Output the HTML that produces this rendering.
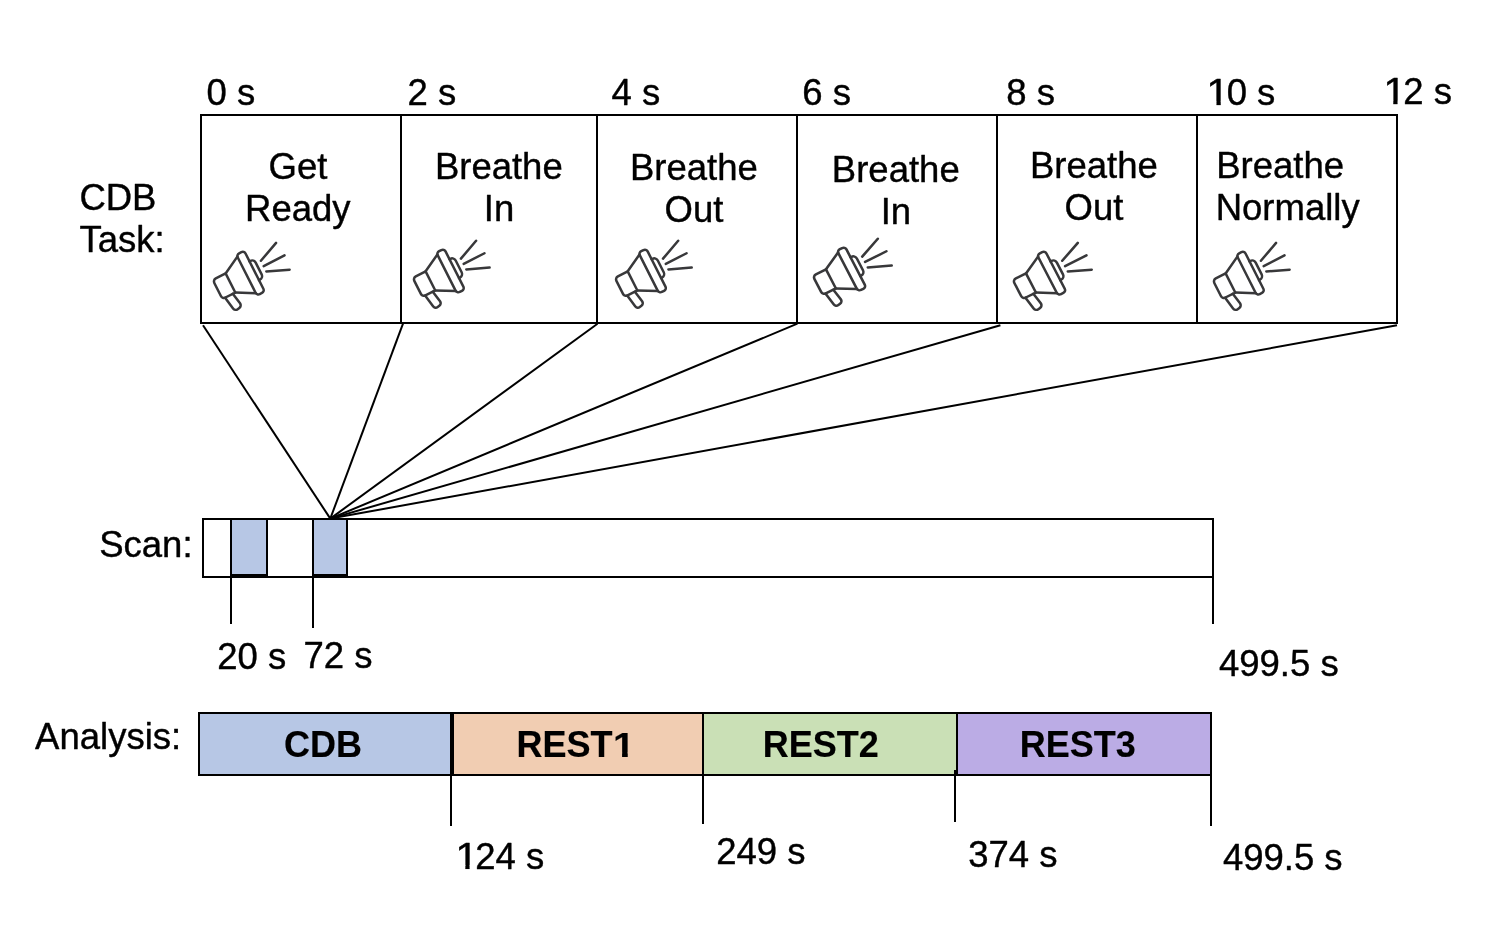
<!DOCTYPE html>
<html><head><meta charset="utf-8"><title>CDB task timing diagram</title>
<style>
html,body{margin:0;padding:0;background:#fff;}
body{width:1508px;height:930px;overflow:hidden;position:relative;}
svg{position:absolute;left:0;top:0;display:block;will-change:transform;}
text{font-family:"Liberation Sans",sans-serif;font-size:36.5px;fill:#000;stroke:#000;stroke-width:0.4px;stroke-linejoin:round;}
.b{font-weight:bold;font-size:36px;stroke-width:0.15px;}
</style></head><body>
<svg width="1508" height="930" viewBox="0 0 1508 930">
<defs><clipPath id="oneR" clipPathUnits="userSpaceOnUse"><rect x="-2" y="-32" width="24" height="28.5"/><rect x="8.9" y="-3.6" width="3.7" height="4.1"/></clipPath>
<clipPath id="oneB" clipPathUnits="userSpaceOnUse"><rect x="-2" y="-32" width="24" height="27.5"/><rect x="8.4" y="-4.6" width="5.2" height="5.1"/></clipPath></defs>

<g fill="none" stroke="#000" stroke-width="2" shape-rendering="crispEdges">
<rect x="201" y="115" width="1196" height="208"/>
<line x1="401" y1="115" x2="401" y2="323"/>
<line x1="597" y1="115" x2="597" y2="323"/>
<line x1="797" y1="115" x2="797" y2="323"/>
<line x1="997" y1="115" x2="997" y2="323"/>
<line x1="1197" y1="115" x2="1197" y2="323"/>
</g>
<g stroke="#000" stroke-width="2" fill="none">
<line x1="203.0" y1="325.2" x2="330.3" y2="518.6"/>
<line x1="403.0" y1="323.7" x2="330.3" y2="518.6"/>
<line x1="597.5" y1="323.7" x2="330.3" y2="518.6"/>
<line x1="797.4" y1="323.7" x2="330.3" y2="518.6"/>
<line x1="1000.4" y1="325.3" x2="330.3" y2="518.6"/>
<line x1="1397.0" y1="325.3" x2="330.3" y2="518.6"/>
</g>
<g stroke="#000" stroke-width="2" shape-rendering="crispEdges">
<rect x="203" y="519" width="1010" height="58" fill="#fff"/>
<rect x="231" y="519" width="36" height="56" fill="#b7c7e5"/>
<rect x="313" y="519" width="34" height="56" fill="#b7c7e5"/>
<line x1="231" y1="577" x2="231" y2="623.7"/>
<line x1="313" y1="577" x2="313" y2="627.7"/>
<line x1="1213" y1="577" x2="1213" y2="623.7"/>
</g>
<g stroke="#000" stroke-width="2" shape-rendering="crispEdges">
<rect x="199" y="713" width="252" height="62" fill="#b7c7e5"/>
<rect x="453" y="713" width="250" height="62" fill="#f1cdb2"/>
<rect x="703" y="713" width="254" height="62" fill="#cae0b6"/>
<rect x="957" y="713" width="254" height="62" fill="#bbace5"/>
<line x1="451" y1="775" x2="451" y2="825.7"/>
<line x1="703" y1="775" x2="703" y2="823.7"/>
<line x1="955" y1="770" x2="955" y2="821.7"/>
<line x1="1211" y1="775" x2="1211" y2="825.7"/>
</g>
<g transform="translate(0.0,0.0)"><g fill="none" stroke="#38383a" stroke-width="2.5" stroke-linecap="round" stroke-linejoin="round">
<g transform="translate(250.4,272.8) rotate(-26.8)">
<rect x="-4.36" y="-22.5" width="8.72" height="45.7" rx="3.1" ry="3.1"/>
<path d="M4.36,-10.6 H5.4 A3.9,3.9 0 0 1 9.3,-6.7 V6.5 A3.9,3.9 0 0 1 5.4,10.4 H4.36"/>
<path d="M-4.36,-20.3 L-22.4,-10.6 M-4.36,20.6 L-22.4,10.8"/>
<path d="M-22.4,-10.6 H-33.4 A3.4,3.4 0 0 0 -36.8,-7.2 V7.4 A3.4,3.4 0 0 0 -33.4,10.8 H-22.4 Z"/>
<path d="M-33.8,10.8 L-31.55,24.0 A3.3,3.3 0 0 0 -27.75,26.7 L-25.7,26.35 A3.3,3.3 0 0 0 -23.0,22.55 L-25.2,10.8"/>
<path d="M14.8,-6 L36.4,-15.1 M14.9,0 L38.3,-0.2 M14.8,6 L36.4,14.9"/>
</g></g></g>
<g transform="translate(200.0,-2.1)"><g fill="none" stroke="#38383a" stroke-width="2.5" stroke-linecap="round" stroke-linejoin="round">
<g transform="translate(250.4,272.8) rotate(-26.8)">
<rect x="-4.36" y="-22.5" width="8.72" height="45.7" rx="3.1" ry="3.1"/>
<path d="M4.36,-10.6 H5.4 A3.9,3.9 0 0 1 9.3,-6.7 V6.5 A3.9,3.9 0 0 1 5.4,10.4 H4.36"/>
<path d="M-4.36,-20.3 L-22.4,-10.6 M-4.36,20.6 L-22.4,10.8"/>
<path d="M-22.4,-10.6 H-33.4 A3.4,3.4 0 0 0 -36.8,-7.2 V7.4 A3.4,3.4 0 0 0 -33.4,10.8 H-22.4 Z"/>
<path d="M-33.8,10.8 L-31.55,24.0 A3.3,3.3 0 0 0 -27.75,26.7 L-25.7,26.35 A3.3,3.3 0 0 0 -23.0,22.55 L-25.2,10.8"/>
<path d="M14.8,-6 L36.4,-15.1 M14.9,0 L38.3,-0.2 M14.8,6 L36.4,14.9"/>
</g></g></g>
<g transform="translate(402.1,-2.1)"><g fill="none" stroke="#38383a" stroke-width="2.5" stroke-linecap="round" stroke-linejoin="round">
<g transform="translate(250.4,272.8) rotate(-26.8)">
<rect x="-4.36" y="-22.5" width="8.72" height="45.7" rx="3.1" ry="3.1"/>
<path d="M4.36,-10.6 H5.4 A3.9,3.9 0 0 1 9.3,-6.7 V6.5 A3.9,3.9 0 0 1 5.4,10.4 H4.36"/>
<path d="M-4.36,-20.3 L-22.4,-10.6 M-4.36,20.6 L-22.4,10.8"/>
<path d="M-22.4,-10.6 H-33.4 A3.4,3.4 0 0 0 -36.8,-7.2 V7.4 A3.4,3.4 0 0 0 -33.4,10.8 H-22.4 Z"/>
<path d="M-33.8,10.8 L-31.55,24.0 A3.3,3.3 0 0 0 -27.75,26.7 L-25.7,26.35 A3.3,3.3 0 0 0 -23.0,22.55 L-25.2,10.8"/>
<path d="M14.8,-6 L36.4,-15.1 M14.9,0 L38.3,-0.2 M14.8,6 L36.4,14.9"/>
</g></g></g>
<g transform="translate(594.27,-4.1) scale(1.027,1)"><g fill="none" stroke="#38383a" stroke-width="2.5" stroke-linecap="round" stroke-linejoin="round">
<g transform="translate(250.4,272.8) rotate(-26.8)">
<rect x="-4.36" y="-22.5" width="8.72" height="45.7" rx="3.1" ry="3.1"/>
<path d="M4.36,-10.6 H5.4 A3.9,3.9 0 0 1 9.3,-6.7 V6.5 A3.9,3.9 0 0 1 5.4,10.4 H4.36"/>
<path d="M-4.36,-20.3 L-22.4,-10.6 M-4.36,20.6 L-22.4,10.8"/>
<path d="M-22.4,-10.6 H-33.4 A3.4,3.4 0 0 0 -36.8,-7.2 V7.4 A3.4,3.4 0 0 0 -33.4,10.8 H-22.4 Z"/>
<path d="M-33.8,10.8 L-31.55,24.0 A3.3,3.3 0 0 0 -27.75,26.7 L-25.7,26.35 A3.3,3.3 0 0 0 -23.0,22.55 L-25.2,10.8"/>
<path d="M14.8,-6 L36.4,-15.1 M14.9,0 L38.3,-0.2 M14.8,6 L36.4,14.9"/>
</g></g></g>
<g transform="translate(794.27,0.0) scale(1.027,1)"><g fill="none" stroke="#38383a" stroke-width="2.5" stroke-linecap="round" stroke-linejoin="round">
<g transform="translate(250.4,272.8) rotate(-26.8)">
<rect x="-4.36" y="-22.5" width="8.72" height="45.7" rx="3.1" ry="3.1"/>
<path d="M4.36,-10.6 H5.4 A3.9,3.9 0 0 1 9.3,-6.7 V6.5 A3.9,3.9 0 0 1 5.4,10.4 H4.36"/>
<path d="M-4.36,-20.3 L-22.4,-10.6 M-4.36,20.6 L-22.4,10.8"/>
<path d="M-22.4,-10.6 H-33.4 A3.4,3.4 0 0 0 -36.8,-7.2 V7.4 A3.4,3.4 0 0 0 -33.4,10.8 H-22.4 Z"/>
<path d="M-33.8,10.8 L-31.55,24.0 A3.3,3.3 0 0 0 -27.75,26.7 L-25.7,26.35 A3.3,3.3 0 0 0 -23.0,22.55 L-25.2,10.8"/>
<path d="M14.8,-6 L36.4,-15.1 M14.9,0 L38.3,-0.2 M14.8,6 L36.4,14.9"/>
</g></g></g>
<g transform="translate(1000.0,0.0)"><g fill="none" stroke="#38383a" stroke-width="2.5" stroke-linecap="round" stroke-linejoin="round">
<g transform="translate(250.4,272.8) rotate(-26.8)">
<rect x="-4.36" y="-22.5" width="8.72" height="45.7" rx="3.1" ry="3.1"/>
<path d="M4.36,-10.6 H5.4 A3.9,3.9 0 0 1 9.3,-6.7 V6.5 A3.9,3.9 0 0 1 5.4,10.4 H4.36"/>
<path d="M-4.36,-20.3 L-22.4,-10.6 M-4.36,20.6 L-22.4,10.8"/>
<path d="M-22.4,-10.6 H-33.4 A3.4,3.4 0 0 0 -36.8,-7.2 V7.4 A3.4,3.4 0 0 0 -33.4,10.8 H-22.4 Z"/>
<path d="M-33.8,10.8 L-31.55,24.0 A3.3,3.3 0 0 0 -27.75,26.7 L-25.7,26.35 A3.3,3.3 0 0 0 -23.0,22.55 L-25.2,10.8"/>
<path d="M14.8,-6 L36.4,-15.1 M14.9,0 L38.3,-0.2 M14.8,6 L36.4,14.9"/>
</g></g></g>
<text id="t0" x="206.59" y="105.00" text-anchor="start" class="">0 s</text>
<text id="t2" x="407.50" y="105.00" text-anchor="start" class="">2 s</text>
<text id="t4" x="611.50" y="105.00" text-anchor="start" class="">4 s</text>
<text id="t6" x="802.37" y="105.00" text-anchor="start" class="">6 s</text>
<text id="t8" x="1006.36" y="105.00" text-anchor="start" class="">8 s</text>
<g transform="translate(1208.10,105.00)"><text id="t10one" x="0" y="0" class="" clip-path="url(#oneR)" transform="translate(-1.750,0) scale(1.14,1)">1</text></g>
<text id="t10" x="1226.66" y="105.00" text-anchor="start" class="">0 s</text>
<g transform="translate(1384.90,104.20)"><text id="t12one" x="0" y="0" class="" clip-path="url(#oneR)" transform="translate(-1.750,0) scale(1.14,1)">1</text></g>
<text id="t12" x="1403.35" y="104.20" text-anchor="start" class="">2 s</text>
<text id="b1a" x="297.94" y="179.10" text-anchor="middle" class="">Get</text>
<text id="b1b" x="297.81" y="221.20" text-anchor="middle" class="">Ready</text>
<text id="b2a" x="498.81" y="178.80" text-anchor="middle" class="">Breathe</text>
<text id="b2b" x="499.02" y="221.20" text-anchor="middle" class="">In</text>
<text id="b3a" x="693.92" y="180.10" text-anchor="middle" class="">Breathe</text>
<text id="b3b" x="693.97" y="222.00" text-anchor="middle" class="">Out</text>
<text id="b4a" x="895.79" y="182.00" text-anchor="middle" class="">Breathe</text>
<text id="b4b" x="895.95" y="223.90" text-anchor="middle" class="">In</text>
<text id="b5a" x="1093.92" y="177.70" text-anchor="middle" class="">Breathe</text>
<text id="b5b" x="1093.97" y="219.80" text-anchor="middle" class="">Out</text>
<text id="b6a" x="1216.23" y="177.70" text-anchor="start" class="">Breathe</text>
<text id="b6b" x="1215.69" y="219.80" text-anchor="start" class="">Normally</text>
<text id="l1a" x="79.38" y="209.70" text-anchor="start" class="">CDB</text>
<text id="l1b" x="79.56" y="251.70" text-anchor="start" class="">Task:</text>
<text id="l2" x="99.20" y="556.80" text-anchor="start" class="">Scan:</text>
<text id="l3" x="35.10" y="748.75" text-anchor="start" class="">Analysis:</text>
<text id="s20" x="217.18" y="669.00" text-anchor="start" class="">20 s</text>
<text id="s72" x="303.48" y="668.10" text-anchor="start" class="">72 s</text>
<text id="s499" x="1218.95" y="675.90" text-anchor="start" class="">499.5 s</text>
<g transform="translate(456.95,868.80)"><text id="a124one" x="0" y="0" class="" clip-path="url(#oneR)" transform="translate(-1.750,0) scale(1.14,1)">1</text></g>
<text id="a124" x="475.31" y="868.80" text-anchor="start" class="">24 s</text>
<text id="a249" x="716.26" y="863.90" text-anchor="start" class="">249 s</text>
<text id="a374" x="968.16" y="866.85" text-anchor="start" class="">374 s</text>
<text id="a499" x="1222.90" y="869.80" text-anchor="start" class="">499.5 s</text>
<text id="c1" x="323.08" y="756.90" text-anchor="middle" class="b">CDB</text>
<text id="c2" x="516.50" y="756.70" text-anchor="start" class="b">REST</text>
<g transform="translate(614.13,756.70)"><text id="c2one" x="0" y="0" class="b" clip-path="url(#oneB)" transform="translate(-1.215,0) scale(1.09,1)">1</text></g>
<text id="c3" x="820.77" y="756.70" text-anchor="middle" class="b">REST2</text>
<text id="c4" x="1077.86" y="756.70" text-anchor="middle" class="b">REST3</text>
</svg></body></html>
